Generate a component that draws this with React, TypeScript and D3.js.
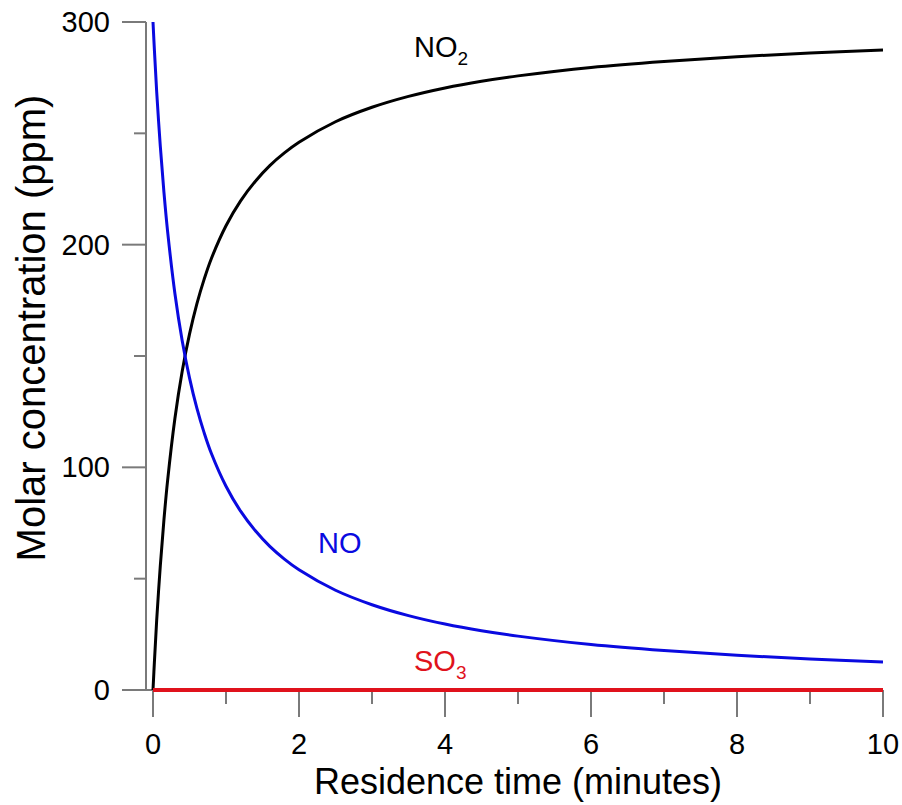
import React, { useRef, useEffect } from 'react';
import * as d3 from 'd3';

// residence time (minutes)
const times = [0, 0.02, 0.05, 0.1, 0.15, 0.2, 0.3, 0.4, 0.5, 0.6, 0.7, 0.8, 1, 1.2, 1.4, 1.6, 1.8, 2, 2.5, 3, 3.5, 4, 4.5, 5, 6, 7, 8, 9, 10];
// concentrations (ppm)
const noValues = [300, 286.9, 268.9, 244.3, 223.5, 206, 178.1, 156.9, 140.2, 126.7, 115.6, 106.2, 91.5, 80.3, 71.6, 64.5, 58.8, 54, 44.8, 38.3, 33.4, 29.6, 26.6, 24.2, 20.4, 17.7, 15.6, 13.9, 12.6];
const no2Values = [0, 13.1, 31.1, 55.7, 76.5, 94, 121.9, 143.1, 159.8, 173.3, 184.4, 193.8, 208.5, 219.7, 228.4, 235.5, 241.2, 246, 255.2, 261.7, 266.6, 270.4, 273.4, 275.8, 279.6, 282.3, 284.4, 286.1, 287.4];
const so3Values = times.map(() => 0);

const xMajor = [0, 2, 4, 6, 8, 10];
const xMinor = [1, 3, 5, 7, 9];
const yMajor = [0, 100, 200, 300];
const yMinor = [50, 150, 250];

const App = () => {
  const ref = useRef<SVGSVGElement>(null);

  useEffect(() => {
    if (!ref.current) return;
    const svg = d3.select(ref.current);
    svg.selectAll('*').remove();

    const x = d3.scaleLinear().domain([0, 10]).range([153, 883]);
    const y = d3.scaleLinear().domain([0, 300]).range([690, 22]);
    const axisX = 146;
    const grey = '#7a7a7a';
    const font = 'Liberation Sans, Arial, sans-serif';

    // axis lines
    svg.append('line')
      .attr('x1', axisX).attr('x2', axisX)
      .attr('y1', y(300)).attr('y2', y(0))
      .attr('stroke', grey).attr('stroke-width', 2);
    svg.append('line')
      .attr('x1', axisX).attr('x2', x(10))
      .attr('y1', y(0)).attr('y2', y(0))
      .attr('stroke', grey).attr('stroke-width', 2);

    // y ticks
    svg.selectAll('.ymaj').data(yMajor).enter().append('line')
      .attr('x1', axisX - 24).attr('x2', axisX)
      .attr('y1', d => y(d)).attr('y2', d => y(d))
      .attr('stroke', grey).attr('stroke-width', 2);
    svg.selectAll('.ymin').data(yMinor).enter().append('line')
      .attr('x1', axisX - 12).attr('x2', axisX)
      .attr('y1', d => y(d)).attr('y2', d => y(d))
      .attr('stroke', grey).attr('stroke-width', 2);
    svg.selectAll('.ylab').data(yMajor).enter().append('text')
      .attr('x', 110).attr('y', d => y(d) + 10)
      .attr('text-anchor', 'end')
      .style('font-family', font).style('font-size', '29px')
      .text(d => d);

    // x ticks
    svg.selectAll('.xmaj').data(xMajor).enter().append('line')
      .attr('x1', d => x(d)).attr('x2', d => x(d))
      .attr('y1', y(0)).attr('y2', y(0) + 27)
      .attr('stroke', grey).attr('stroke-width', 2);
    svg.selectAll('.xmin').data(xMinor).enter().append('line')
      .attr('x1', d => x(d)).attr('x2', d => x(d))
      .attr('y1', y(0)).attr('y2', y(0) + 14)
      .attr('stroke', grey).attr('stroke-width', 2);
    svg.selectAll('.xlab').data(xMajor).enter().append('text')
      .attr('x', d => x(d)).attr('y', 754)
      .attr('text-anchor', 'middle')
      .style('font-family', font).style('font-size', '29px')
      .text(d => d);

    // axis titles
    svg.append('text')
      .attr('x', (x(0) + x(10)) / 2).attr('y', 794)
      .attr('text-anchor', 'middle')
      .style('font-family', font).style('font-size', '36px')
      .text('Residence time (minutes)');
    svg.append('text')
      .attr('transform', 'translate(45,328) rotate(-90)')
      .attr('text-anchor', 'middle')
      .style('font-family', font).style('font-size', '40px')
      .text('Molar concentration (ppm)');

    // curves
    const line = d3.line<number>()
      .x((_, i) => x(times[i]))
      .y(d => y(d))
      .curve(d3.curveCatmullRom.alpha(0.5));

    svg.append('path').attr('d', line(no2Values))
      .attr('fill', 'none').attr('stroke', '#000').attr('stroke-width', 3);
    svg.append('path').attr('d', line(noValues))
      .attr('fill', 'none').attr('stroke', '#0a0ae0').attr('stroke-width', 3);
    svg.append('path').attr('d', line(so3Values))
      .attr('fill', 'none').attr('stroke', '#e0121c').attr('stroke-width', 4);

    // series labels
    const label = (tx: number, ty: number, main: string, sub: string, color: string) => {
      const t = svg.append('text')
        .attr('x', tx).attr('y', ty)
        .attr('fill', color)
        .style('font-family', font).style('font-size', '29px');
      t.append('tspan').text(main);
      if (sub) {
        t.append('tspan').attr('dy', 8).style('font-size', '19px').text(sub);
      }
    };
    label(414, 57, 'NO', '2', '#000');
    label(318, 553, 'NO', '', '#0a0ae0');
    label(414, 671, 'SO', '3', '#e0121c');
  }, []);

  return (
    <svg
      ref={ref}
      width={902}
      height={805}
      style={{ display: 'block', position: 'absolute', left: 0, top: 0 }}
    />
  );
};

export default App;
